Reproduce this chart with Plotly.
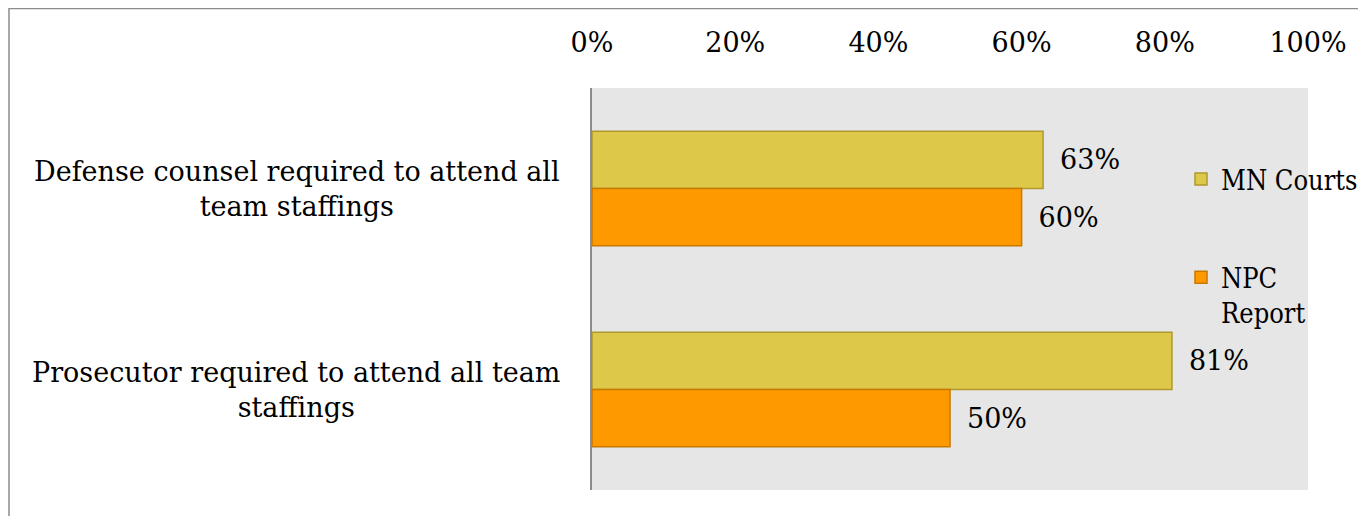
import plotly.graph_objects as go

categories = ["Defense counsel required to attend all<br>team staffings",
              "Prosecutor required to attend all team<br>staffings"]
mn_courts = [0.63, 0.81]
npc_report = [0.60, 0.50]
tick_vals = [0, 0.2, 0.4, 0.6, 0.8, 1.0]
tick_text = ["0%", "20%", "40%", "60%", "80%", "100%"]

FONT = "DejaVu Serif"
LEG_FONT = "DejaVu Serif Condensed"
FS = 27

# page is rendered with an 8px body margin
OFF = 8
W, H = 1366, 516
L, T = 592 - OFF, 88 - OFF
R = W - (1308 - OFF)
B = H - (490 - OFF)
pw, ph = W - L - R, H - T - B

fig = go.Figure()
fig.add_trace(go.Bar(
    y=categories, x=mn_courts, orientation="h", name="MN Courts",
    marker=dict(color="#DEC84A", line=dict(color="#B0982E", width=1.5)),
    text=mn_courts, texttemplate="\u00a0\u2009%{x:.0%}", textposition="outside",
    textfont=dict(family=FONT, size=FS, color="#000000"),
    cliponaxis=False, legendgroup="a",
))
fig.add_trace(go.Bar(
    y=categories, x=npc_report, orientation="h", name="NPC<br>Report",
    marker=dict(color="#FE9A00", line=dict(color="#C97800", width=1.5)),
    text=npc_report, texttemplate="\u00a0\u2009%{x:.0%}", textposition="outside",
    textfont=dict(family=FONT, size=FS, color="#000000"),
    cliponaxis=False, legendgroup="b",
))

for c in categories:
    fig.add_annotation(x=0, xref="paper", xanchor="right", xshift=-30,
                       y=c, yref="y", text=c, showarrow=False, align="center",
                       font=dict(family=FONT, size=FS, color="#000000"))

fig.add_shape(type="rect", xref="paper", yref="paper",
              x0=(1 - L) / pw, x1=(W + 20 - L) / pw,
              y0=-(B + 20) / ph, y1=(H - B - 0.5) / ph,
              line=dict(color="#8C8C8C", width=1.5), fillcolor="rgba(0,0,0,0)")

fig.update_layout(
    width=W, height=H,
    margin=dict(l=L, r=R, t=T, b=B, autoexpand=False),
    paper_bgcolor="#FFFFFF", plot_bgcolor="#E6E6E6",
    barmode="group", bargap=0.43, bargroupgap=0,
    font=dict(family=FONT, size=FS, color="#000000"),
    showlegend=True,
    legend=dict(x=(1181 - OFF - L) / pw, xanchor="left",
                y=1 - (155 - OFF - T) / ph, yanchor="top",
                bgcolor="rgba(0,0,0,0)", font=dict(family=LEG_FONT, size=FS),
                tracegroupgap=60, valign="top", traceorder="grouped"),
    xaxis=dict(range=[0, 1], side="top", tickvals=tick_vals, ticktext=tick_text,
               showgrid=False, zeroline=False, showline=False, ticks="",
               ticklabelstandoff=30, fixedrange=True,
               tickfont=dict(family=FONT, size=FS)),
    yaxis=dict(autorange="reversed", showticklabels=False, showgrid=False,
               showline=True, linecolor="#8C8C8C", linewidth=1.5, ticks="",
               zeroline=False),
)

fig.write_html("out.html")
